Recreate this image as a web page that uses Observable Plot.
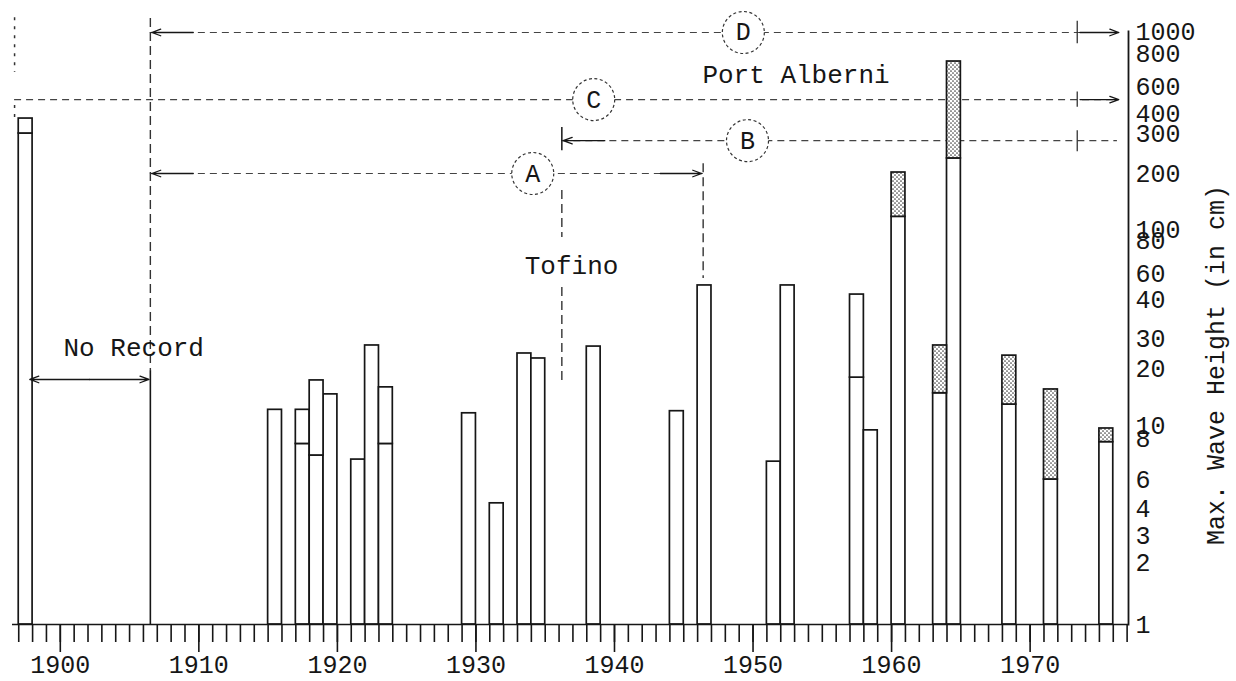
<!DOCTYPE html>
<html><head><meta charset="utf-8">
<script src="https://cdn.jsdelivr.net/npm/d3@7"></script>
<script src="https://cdn.jsdelivr.net/npm/@observablehq/plot@0.6"></script>
<style>
body{margin:0;background:#fff;}
#chart svg{display:block;}
</style></head><body><div id="chart"></div>
<script>
// ---- bar data (max wave height, cm) ----
const years       = [1897, 1915, 1917, 1918, 1919, 1921, 1922, 1923, 1929, 1931, 1933, 1934, 1938, 1944, 1946, 1951, 1952, 1957, 1958, 1960, 1963, 1964, 1968, 1971, 1975];
const maxHeight   = [372,  12.1, 12.1, 17.3, 14.6, 6.9,  27.3, 15.9, 11.6, 4.3,  24.5, 22.9, 26.9, 11.9, 49.8, 6.8,  49.8, 43.2, 9.2,  202,  27.3, 746,  23.8, 15.5, 9.5];
const splitHeight = [300,  null, 7.7,  7.1,  null, null, null, 7.7,  null, null, null, null, null, null, null, null, null, 17.9, null, 117,  14.8, 233,  12.9, 6.0,  7.8];
const stippled    = [false,false,false,false,false,false,false,false,false,false,false,false,false,false,false,false,false,false,false,true, true, true, true, true, true];

// ---- axis ticks ----
const yTicks = [1, 2, 3, 4, 6, 8, 10, 20, 30, 40, 60, 80, 100, 200, 300, 400, 600, 800, 1000];
const decadeTicks = [1900, 1910, 1920, 1930, 1940, 1950, 1960, 1970];
const yearTicks = d3.range(1897, 1978);

// ---- record-range annotations (A..D) ----
const rangeLabels    = ["A", "B", "C", "D"];
const rangeStart     = [1906.5, 1936.2, 1896.7, 1906.5];
const rangeEnd       = [1946.4, 1976.3, 1976.3, 1976.3];
const rangeLevel     = [200, 279, 493, 990];
const rangeLabelYear = [1934.1, 1949.6, 1938.5, 1949.3];

// arrow heads at range ends
const headFrom  = [1909.6, 1909.6, 1939.3, 1943.3, 1973.6, 1973.6];
const headTo    = [1906.6, 1906.6, 1936.3, 1946.3, 1976.4, 1976.4];
const headLevel = [200, 990, 279, 200, 990, 493];

// small end ticks on the right of B, C, D
const endTickYear  = [1973.4, 1973.4, 1973.4];
const endTickLevel = [279, 493, 990];

// vertical guides
const guideYear   = [1936.2, 1936.2, 1936.2, 1946.4, 1906.5, 1896.7, 1896.7];
const guideTop    = [327,    162,    48.2,   221,    1140,   1150,   451];
const guideBottom = [252,    85,     17.3,   55.5,   19.5,   678,    372];
const guideKind   = ["solid","dash", "dash", "dash", "dash", "dot",  "dot"];
const noRecordEdgeYear = [1906.5];
const noRecordEdgeTop  = [19.5];

// text notes
const noteText  = ["No Record", "Tofino", "Port Alberni"];
const noteYear  = [1905.3, 1936.9, 1953.1];
const noteLevel = [26.5, 64.3, 666];

// No Record double arrow
const noRecordFrom = 1897.8, noRecordTo = 1906.4, noRecordLevel = 17.5;

const bars = years.map((yr, i) => ({year: yr, top: maxHeight[i], split: splitHeight[i], stip: stippled[i]}));
const ranges = rangeLabels.map((l, i) => ({label: l, x1: rangeStart[i], x2: rangeEnd[i], y: rangeLevel[i], lx: rangeLabelYear[i]}));
const heads = headFrom.map((f, i) => ({x1: f, x2: headTo[i], y: headLevel[i]}));
const endTicks = endTickYear.map((x, i) => ({x, y1: endTickLevel[i] * 1.12, y2: endTickLevel[i] / 1.12}));
const guides = guideYear.map((g, i) => ({x: g, y1: guideTop[i], y2: guideBottom[i], kind: guideKind[i]}));
const notes = noteText.map((t, i) => ({text: t, x: noteYear[i], y: noteLevel[i]}));
const edge = noRecordEdgeYear.map((x, i) => ({x, y1: noRecordEdgeTop[i], y2: 1}));
const mid = (noRecordFrom + noRecordTo) / 2;
const noRec = [{x1: mid, x2: noRecordFrom, y: noRecordLevel}, {x1: mid, x2: noRecordTo, y: noRecordLevel}];

const ink = "#161616";
const FONT = "Liberation Mono, DejaVu Sans Mono, monospace";

const chart = Plot.plot({
  width: 1236, height: 681,
  marginLeft: 12, marginRight: 108, marginTop: 31, marginBottom: 57,
  x: {domain: [1896.55, 1977.1]},
  // hand-drawn logarithmic scale: tick values placed where the original figure puts them
  y: {type: "log", domain: yTicks, range: [624, 562, 535, 508, 479, 438, 425, 368, 338, 299, 273, 240, 229, 173, 133, 113, 86, 53, 31]},
  style: {fontFamily: FONT, fontSize: "25px", color: ink, background: "white"},
  marks: [
    // range lines
    Plot.ruleY(ranges, {x1: "x1", x2: "x2", y: "y", stroke: "#444", strokeWidth: 1.2, strokeDasharray: "7,5"}),
    Plot.arrow(heads, {x1: "x1", x2: "x2", y1: "y", y2: "y", stroke: ink, strokeWidth: 1.3, headLength: 11, headAngle: 40}),
    Plot.ruleX(endTicks, {x: "x", y1: "y1", y2: "y2", stroke: "#333", strokeWidth: 1.3}),
    // vertical guides
    Plot.ruleX(guides.filter(d => d.kind === "dash"), {x: "x", y1: "y1", y2: "y2", stroke: "#333", strokeWidth: 1.4, strokeDasharray: "9,5"}),
    Plot.ruleX(guides.filter(d => d.kind === "solid"), {x: "x", y1: "y1", y2: "y2", stroke: ink, strokeWidth: 1.5}),
    Plot.ruleX(guides.filter(d => d.kind === "dot"), {x: "x", y1: "y1", y2: "y2", stroke: "#333", strokeWidth: 1.5, strokeDasharray: "3,6"}),
    Plot.ruleX(edge, {x: "x", y1: "y1", y2: "y2", stroke: ink, strokeWidth: 1.6}),
    // circled labels
    Plot.dot(ranges, {x: "lx", y: "y", r: 21, fill: "white", stroke: "#333", strokeWidth: 1.2, strokeDasharray: "3,2.5"}),
    Plot.text(ranges, {x: "lx", y: "y", text: "label", fontSize: 25, fill: ink}),
    // bars
    Plot.rect(bars, {x1: "year", x2: d => d.year + 1, y1: 1, y2: d => d.split ?? d.top, fill: "white", stroke: ink, strokeWidth: 1.7}),
    Plot.rect(bars.filter(d => d.split != null && !d.stip), {x1: "year", x2: d => d.year + 1, y1: "split", y2: "top", fill: "white", stroke: ink, strokeWidth: 1.7}),
    Plot.rect(bars.filter(d => d.split != null && d.stip), {x1: "year", x2: d => d.year + 1, y1: "split", y2: "top", fill: "url(#stip)", stroke: ink, strokeWidth: 1.7}),
    // No record arrows
    Plot.arrow(noRec, {x1: "x1", x2: "x2", y1: "y", y2: "y", stroke: ink, strokeWidth: 1.3, headLength: 11, headAngle: 40}),
    // notes
    Plot.text(notes, {x: "x", y: "y", text: "text", fontSize: 26, fill: ink}),
    // axes
    Plot.ruleY([1], {stroke: ink, strokeWidth: 1.6}),
    Plot.frame({anchor: "right", stroke: ink, strokeWidth: 1.8}),
    Plot.axisX({ticks: yearTicks, tickSize: 18, tickFormat: () => "", label: null, stroke: ink, strokeWidth: 1.6}),
    Plot.axisX({ticks: decadeTicks, tickSize: 28, tickPadding: 3, tickFormat: d => String(d), label: null, stroke: ink, strokeWidth: 1.6, fontSize: 25, fill: ink}),
    Plot.axisY({anchor: "right", ticks: yTicks, tickSize: 0, tickPadding: 7, text: d => String(d), label: null, fontSize: 25, fill: ink}),
    Plot.text(["Max. Wave Height (in cm)"], {frameAnchor: "right", textAnchor: "middle", rotate: -90, dx: 87, dy: 37, fontSize: 25, fill: ink})
  ]
});

// stipple pattern
const defs = d3.select(chart).insert("defs", ":first-child");
const pat = defs.append("pattern").attr("id", "stip").attr("width", 4).attr("height", 4).attr("patternUnits", "userSpaceOnUse");
pat.append("rect").attr("width", 4).attr("height", 4).attr("fill", "white");
pat.append("circle").attr("cx", 1).attr("cy", 1).attr("r", 0.85).attr("fill", "#444");
pat.append("circle").attr("cx", 3).attr("cy", 3).attr("r", 0.85).attr("fill", "#444");

document.getElementById("chart").appendChild(chart);
</script></body></html>
